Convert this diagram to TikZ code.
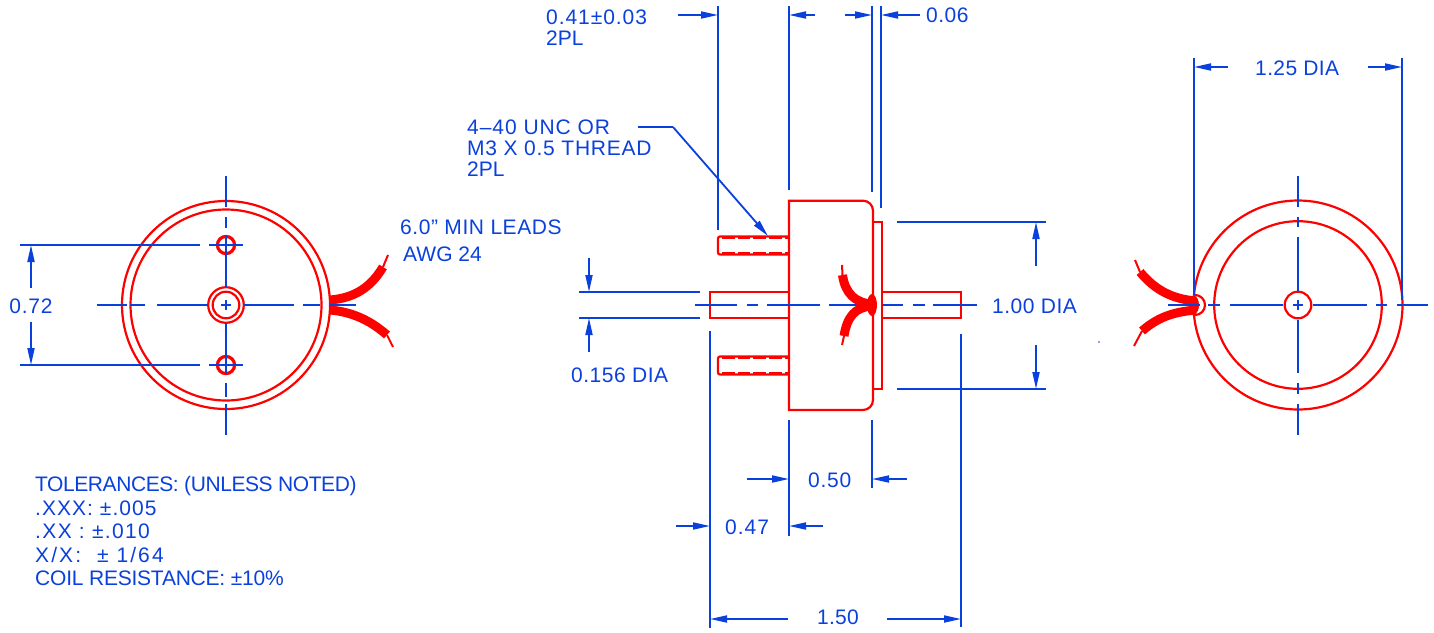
\documentclass[tikz,border=0pt]{standalone}
\usepackage{fontspec}
\setmainfont{Liberation Sans}
\usetikzlibrary{arrows.meta}
\definecolor{dimblue}{RGB}{10,64,220}
\definecolor{partred}{RGB}{255,0,0}
\newcommand\ls[1]{\addfontfeature{LetterSpace=#1}}

\begin{document}
\begin{tikzpicture}
[x=1pt,y=-1pt
,part/.style={draw=partred,line width=2.2pt}
,partthick/.style={draw=partred,line width=3.2pt}
,thread/.style={draw=partred,line width=2pt,dash pattern=on 12.7pt off 3pt}
,wire/.style={draw=partred,line width=9pt}
,lead/.style={draw=partred,line width=2pt}
,cl/.style={draw=dimblue,line width=1.8pt}
,ext/.style={draw=dimblue,line width=1.8pt}
,dim/.style={ext,arrows={-Triangle[length=17pt,width=7pt]}}
,lbl/.style={text=dimblue,inner sep=0pt,anchor=west,align=left,
  font=\fontsize{21}{21}\selectfont}
]
\useasboundingbox (0,0) rectangle (1434,632);

% left view
\coordinate (lc) at (226,305);
\coordinate (lh1) at (226,245);
\coordinate (lh2) at (226,365);
\draw[part] (lc) circle (104);
\draw[part] (lc) circle (95.5);
\draw[part] (lc) circle (17.8);
\draw[part] (lc) circle (13.3);
\draw[partthick] (lh1) circle (8.6);
\draw[partthick] (lh2) circle (8.6);

\draw[wire] (330,300) .. controls (355,298) and (371,287) .. (383,267);
\draw[wire] (330,310) .. controls (353,312) and (371,321) .. (387,335);
\draw[lead] (383,267) -- (388,255);
\draw[lead] (387,335) -- (393,347);

\draw[cl] (226,176) -- (226,207);
\draw[cl] (226,217) -- (226,228);
\draw[cl] (226,236) -- (226,287);
\draw[cl] (226,300) -- (226,310);
\draw[cl] (226,323) -- (226,374);
\draw[cl] (226,383) -- (226,397);
\draw[cl] (226,404) -- (226,435);
\draw[cl] (97,305) -- (127,305);
\draw[cl] (130,305) -- (145,305);
\draw[cl] (157,305) -- (208,305);
\draw[cl] (221,305) -- (231,305);
\draw[cl] (244,305) -- (294,305);
\draw[cl] (303,305) -- (320,305);
\draw[cl] (330,305) -- (356,305);

\draw[ext] (20,245) -- (200,245);
\draw[ext] (209,245) -- (243,245);
\draw[ext] (20,365) -- (200,365);
\draw[ext] (209,365) -- (243,365);
\draw[dim] (31,288) -- (31,245);
\draw[dim] (31,322) -- (31,365);
\node[lbl,anchor=center] (t72) at (31,306) {\ls{3.6}0.72};

\node[lbl] (tleads) at (400,227) {\ls{2.7}6.0” MIN LEADS};
\node[lbl] (tawg) at (403,254) {AWG 24};

% notes
\node[lbl,anchor=north west,font=\fontsize{21}{23.6}\selectfont] (tnotes) at (35,476)
  {{\ls{-2}TOLERANCES: (UNLESS NOTED)}\\{\ls{5}.XXX: ±.005}\\{\ls{6.5}.XX : ±.010}\\{\ls{10}X/X:\ \ ± 1/64}\\{\ls{-1.1}COIL RESISTANCE: ±10\%}};

% side view
\draw[part] (873,210.7) arc (0:-90:10) -- (789,200.7) -- (789,410) -- (863,410) arc (90:0:10) -- cycle;
\draw[part] (873,221.7) -- (882,221.7) -- (882,389) -- (873,389);
\draw[part] (789,292.3) -- (710,292.3) -- (710,318.3) -- (789,318.3);
\draw[part] (882,292.3) -- (961,292.3) -- (961,318.3) -- (882,318.3);

\draw[part,rounded corners=2pt] (789,236.5) -- (718,236.5) -- (718,254.5) -- (789,254.5);
\draw[part,rounded corners=2pt] (789,356.5) -- (718,356.5) -- (718,374.5) -- (789,374.5);
\draw[thread] (722,238) -- (789,238);
\draw[thread] (722,253) -- (789,253);
\draw[thread] (722,358) -- (789,358);
\draw[thread] (722,373) -- (789,373);

\draw[cl] (695,305) -- (737,305);
\draw[cl] (747,305) -- (758,305);
\draw[cl] (767,305) -- (820,305);
\draw[cl] (829,305) -- (865,305);
\draw[cl] (883,305) -- (903,305);
\draw[cl] (913,305) -- (925,305);
\draw[cl] (933,305) -- (977,305);

\draw[wire] (872,304) .. controls (855,303) and (845,293) .. (842.5,275);
\draw[wire] (872,306) .. controls (855,307) and (847,317) .. (844,336);
\draw[lead] (842.5,275) -- (842,265);
\draw[lead] (844,336) -- (842,345);
\fill[partred] (872,305) ellipse (5 and 11);

% side view dimensions
\draw[ext] (718,6) -- (718,230);
\draw[ext] (789,6) -- (789,190);
\draw[ext] (872,6) -- (872,192);
\draw[ext] (881,6) -- (881,208);
\draw[dim] (678,15) -- (718,15);
\draw[dim] (815,15) -- (789,15);
\draw[dim] (845,15) -- (872,15);
\draw[dim] (920,15) -- (881,15);
\node[lbl] (t41) at (546,17) {\ls{4.5}0.41±0.03};
\node[lbl] (t2pl) at (546,38) {2PL};
\node[lbl] (t06) at (926,15) {\ls{2.4}0.06};

\node[lbl] (tthread) at (467,127) {\ls{4.5}4–40 UNC OR};
\node[lbl] (tm3) at (467,148) {\ls{3.5}M3 X 0.5 THREAD};
\node[lbl] (tthread2) at (467,169) {2PL};
\coordinate (tip) at (768,236);
\draw[ext] (638,127) -- (673,127);
\draw[dim] (673,127) -- (tip);

\draw[ext] (579,292) -- (700,292);
\draw[ext] (579,318) -- (700,318);
\draw[dim] (589,258) -- (589,292);
\draw[dim] (589,352) -- (589,318);
\node[lbl] (t156) at (571,375) {\ls{2.4}0.156 DIA};

\draw[ext] (897,222) -- (1046,222);
\draw[ext] (897,389) -- (1046,389);
\draw[dim] (1036,266) -- (1036,222);
\draw[dim] (1036,345) -- (1036,389);
\node[lbl] (t100) at (992,306) {\ls{2.4}1.00 DIA};

\draw[ext] (710,331) -- (710,628);
\draw[ext] (961,334) -- (961,627);
\draw[dim] (788,619) -- (710,619);
\draw[dim] (887,619) -- (961,619);
\node[lbl] (t150) at (817,617) {\ls{1.2}1.50};

\draw[ext] (789,420) -- (789,536);
\draw[ext] (872,420) -- (872,488);
\draw[dim] (747,479) -- (789,479);
\draw[dim] (907,479) -- (872,479);
\node[lbl] (t50) at (808,480) {\ls{3.6}0.50};
\draw[dim] (676,526) -- (710,526);
\draw[dim] (823,526) -- (789,526);
\node[lbl] (t47) at (725,527) {\ls{4.8}0.47};

\fill[dimblue] (1099,342) circle (0.8);

% right view
\coordinate (rc) at (1298,305);
\draw[part] (rc) circle (104.5);
\draw[part] (rc) circle (83.8);
\draw[part] (rc) circle (13.3);

\draw[wire] (1196,301) .. controls (1172,299) and (1155,290) .. (1140,272);
\draw[wire] (1196,310) .. controls (1172,312) and (1157,318) .. (1142,331);
\draw[lead] (1140,272) -- (1135,260);
\draw[lead] (1142,331) -- (1134,346);
\draw[part] (1195,295) arc (-90:90:10);
\fill[partred] (1194,305) ellipse (5 and 9);

\draw[cl] (1298,176) -- (1298,207);
\draw[cl] (1298,217) -- (1298,227);
\draw[cl] (1298,237) -- (1298,291);
\draw[cl] (1298,300) -- (1298,310);
\draw[cl] (1298,320) -- (1298,373);
\draw[cl] (1298,383) -- (1298,394);
\draw[cl] (1298,404) -- (1298,435);
\draw[cl] (1168,305) -- (1200,305);
\draw[cl] (1208,305) -- (1220,305);
\draw[cl] (1230,305) -- (1283,305);
\draw[cl] (1293,305) -- (1303,305);
\draw[cl] (1313,305) -- (1367,305);
\draw[cl] (1376,305) -- (1387,305);
\draw[cl] (1397,305) -- (1428,305);

\draw[ext] (1194,58) -- (1194,295);
\draw[ext] (1402,58) -- (1402,300);
\draw[dim] (1228,67) -- (1194,67);
\draw[dim] (1368,67) -- (1402,67);
\node[lbl] (t125) at (1255,68) {\ls{1.8}1.25 DIA};
\end{tikzpicture}
\end{document}
